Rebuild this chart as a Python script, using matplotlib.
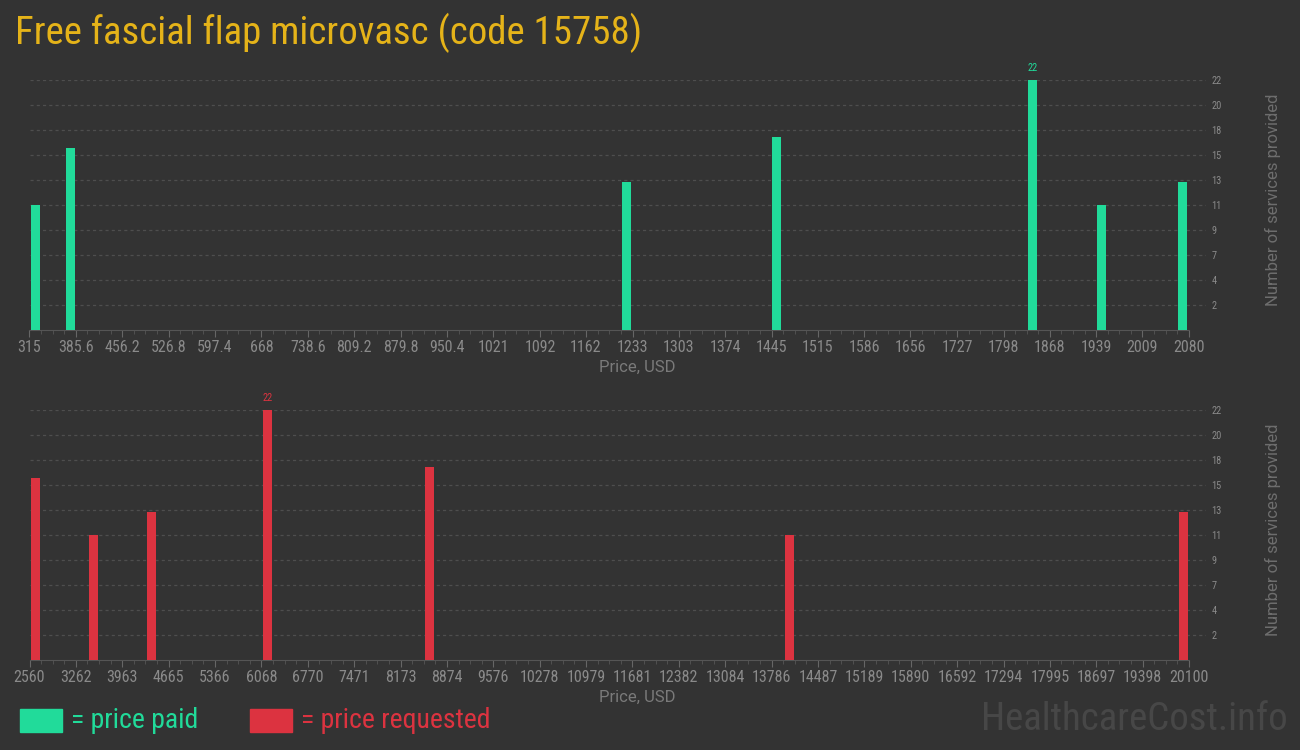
"""
Price histogram for code 15758, paid vs requested
"""

import matplotlib
matplotlib.use("Agg")
import matplotlib.pyplot as plt
from matplotlib.patches import Rectangle
from matplotlib.ticker import FixedLocator

# Data
paid_prices = [324, 377, 1224, 1452, 1842, 1947, 2070]
paid_counts = [11, 16, 13, 17, 22, 11, 13]
paid_ticks = [315, 385.6, 456.2, 526.8, 597.4, 668, 738.6, 809.2, 879.8, 950.4,
              1021, 1092, 1162, 1233, 1303, 1374, 1445, 1515, 1586, 1656,
              1727, 1798, 1868, 1939, 2009, 2080]

req_prices = [2651, 3528, 4405, 6159, 8608, 14052, 20010]
req_counts = [16, 11, 13, 22, 17, 11, 13]
req_ticks = [2560, 3262, 3963, 4665, 5366, 6068, 6770, 7471, 8173, 8874,
             9576, 10278, 10979, 11681, 12382, 13084, 13786, 14487, 15189,
             15890, 16592, 17294, 17995, 18697, 19398, 20100]

count_ticks = [2.2 * k for k in range(1, 11)]
count_labels = [str(int(round(v))) for v in count_ticks]

# Colours
BG = "#333333"
GREEN = "#21db9a"
RED = "#dc3340"
TITLE = "#e5b319"
GREY = "#8a8a8a"
GRID = "#4e4e4e"

NARROW = ["Roboto Condensed", "Liberation Sans Narrow", "Roboto", "DejaVu Sans"]
plt.rcParams["font.family"] = ["Roboto", "DejaVu Sans"]

W, H = 1300, 750
fig = plt.figure(figsize=(13, 7.5), dpi=100, facecolor=BG)


def panel(top_px, prices, counts, ticks, color):
    left, right, base = 29.5, 1206, top_px + 250
    ax = fig.add_axes([left / W, (H - base) / H, (right - left) / W, 250 / H])
    ax.set_facecolor(BG)
    step = (ticks[-1] - ticks[0]) / 25
    ax.set_xlim(ticks[0], ticks[-1] + step * 17 / 46.4)
    ax.set_ylim(0, 22)

    ax.bar(prices, counts, width=step * 9 / 46.4, color=color, zorder=3)
    imax = counts.index(max(counts))
    ax.text(prices[imax], counts[imax] + 0.6, str(counts[imax]), color=color,
            ha="center", va="bottom", fontsize=7.5, family=NARROW)

    for v in count_ticks:
        ax.axhline(v, color=GRID, lw=0.9, ls=(0, (2.5, 2.5)), zorder=1)

    for s in ["top", "left", "right"]:
        ax.spines[s].set_visible(False)
    ax.spines["bottom"].set_color("#555555")
    ax.spines["bottom"].set_bounds(ticks[0], ticks[-1])

    ax.xaxis.set_major_locator(FixedLocator(ticks))
    ax.xaxis.set_minor_locator(FixedLocator(
        [ticks[0] + step * i / 4 for i in range(101) if i % 4]))
    ax.set_xticklabels([("%g" % t) for t in ticks], fontsize=11.5, color=GREY,
                       family=NARROW)
    ax.tick_params(axis="x", which="major", length=5, color="#666666", pad=2)
    ax.tick_params(axis="x", which="minor", length=3, color="#555555")

    ax.yaxis.tick_right()
    ax.set_yticks(count_ticks)
    ax.set_yticklabels(count_labels, fontsize=7.5, color=GREY, family=NARROW)
    ax.tick_params(axis="y", length=0, pad=4)

    ax.set_xlabel("Price, USD", fontsize=12, color="#7a7a7a")
    ax.xaxis.set_label_coords((637 - left) / (right - left), -0.12)
    ax.yaxis.set_label_position("right")
    ax.set_ylabel("Number of services provided", fontsize=12, color="#6e6e6e")
    ax.yaxis.set_label_coords((1265 - left) / (right - left), 0.52)
    return ax


panel(80, paid_prices, paid_counts, paid_ticks, GREEN)
panel(410, req_prices, req_counts, req_ticks, RED)

fig.text(15 / W, 1 - 33 / H, "Free fascial flap microvasc (code 15758)",
         color=TITLE, fontsize=28, ha="left", va="center", family=NARROW)

# legend
fig.patches.append(Rectangle((20 / W, 1 - 732 / H), 42 / W, 23 / H,
                             transform=fig.transFigure, color=GREEN))
fig.text(71 / W, 1 - 720 / H, "= price paid", color=GREEN, fontsize=20,
         ha="left", va="center", family=NARROW)
fig.patches.append(Rectangle((250 / W, 1 - 732 / H), 42 / W, 23 / H,
                             transform=fig.transFigure, color=RED))
fig.text(301 / W, 1 - 720 / H, "= price requested", color=RED, fontsize=20,
         ha="left", va="center", family=NARROW)

fig.text(1288 / W, 1 - 720 / H, "HealthcareCost.info", color="#474747",
         fontsize=28, ha="right", va="center", family=NARROW)

fig.savefig("out.png", dpi=100, facecolor=BG)
